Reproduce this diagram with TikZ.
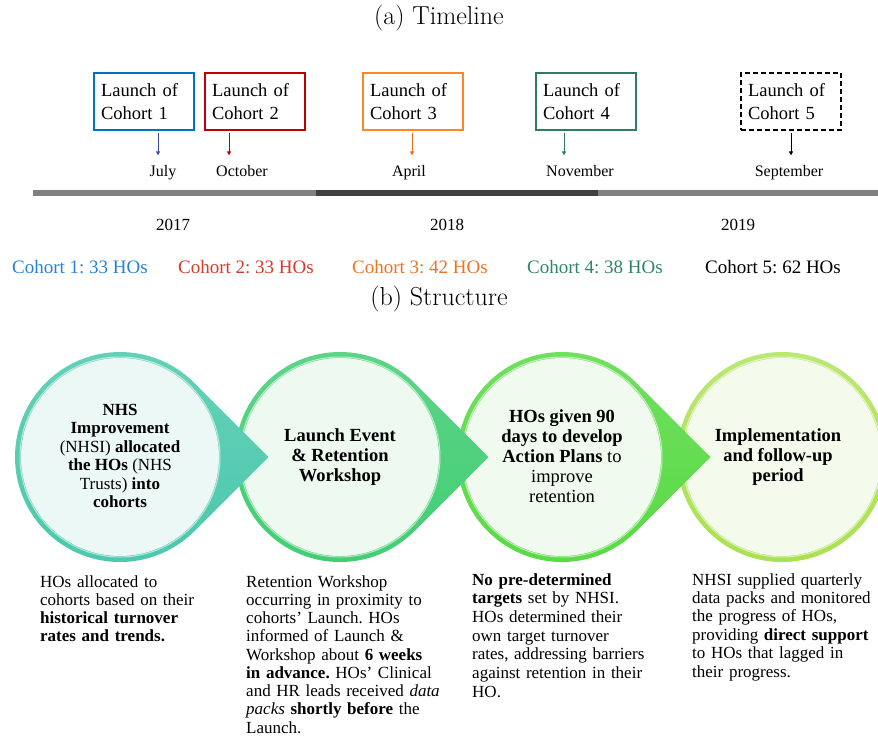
\documentclass[tikz,border=0pt]{standalone}
\usepackage{fontspec}
\newfontfamily\garafont{Liberation Serif}
\usetikzlibrary{arrows.meta}
\frenchspacing

\definecolor{boxblue}{RGB}{0,112,192}
\definecolor{boxred}{RGB}{192,0,0}
\definecolor{boxorange}{RGB}{250,135,40}
\definecolor{boxgreen}{RGB}{45,125,100}
\definecolor{arblue}{RGB}{60,75,175}
\definecolor{arorange}{RGB}{235,110,30}
\definecolor{cntblue}{RGB}{40,130,210}
\definecolor{cntred}{RGB}{210,60,40}
\definecolor{cntorange}{RGB}{235,115,40}
\definecolor{cntgreen}{RGB}{45,135,100}
\definecolor{bargray}{RGB}{128,128,128}
\definecolor{bardark}{RGB}{64,64,64}
\definecolor{ringa}{RGB}{75,200,172}
\definecolor{ringb}{RGB}{65,205,115}
\definecolor{ringc}{RGB}{88,218,68}
\definecolor{ringd}{RGB}{170,225,80}
\definecolor{palea}{RGB}{236,248,245}
\definecolor{paleb}{RGB}{238,249,240}
\definecolor{palec}{RGB}{240,250,238}
\definecolor{paled}{RGB}{244,250,236}

\begin{document}
\begin{tikzpicture}[x=1pt,y=-1pt,
  >={Triangle[length=4pt,width=4pt]},
  titlelbl/.style={font=\fontsize{26}{30}\selectfont},
  launchbox/.style={draw,line width=2.5pt,minimum width=100pt,minimum height=57pt,
    text width=86pt,inner sep=7pt,align=left,font=\garafont\fontsize{18.5}{23}\selectfont},
  launchar/.style={->,line width=0.8pt,shorten <=2pt,shorten >=6pt},
  monthlbl/.style={anchor=base,font=\garafont\fontsize{16}{19}\selectfont},
  yearlbl/.style={anchor=base,font=\garafont\fontsize{17}{20}\selectfont},
  countlbl/.style={anchor=base,font=\garafont\fontsize{19}{22}\selectfont},
  stagesmall/.style={align=center,font=\garafont\fontsize{17}{18.4}\selectfont},
  stagetext/.style={align=center,font=\garafont\fontsize{18.5}{20}\selectfont},
  desctext/.style={anchor=base west,align=left,inner sep=0pt,text width=230pt,
    font=\garafont\fontsize{17}{18.25}\selectfont}]
\useasboundingbox (0,0) rectangle (878,737);

%(a) timeline
\node[titlelbl] (tltitle) at (439,18) {(a) Timeline};

%launch boxes
\node[launchbox,boxblue] (c1box) at (144,101.5) {\color{black}Launch of\\Cohort 1};
\node[launchbox,boxred] (c2box) at (255,101.5) {\color{black}Launch of\\Cohort 2};
\node[launchbox,boxorange] (c3box) at (413,101.5) {\color{black}Launch of\\Cohort 3};
\node[launchbox,boxgreen] (c4box) at (586,101.5) {\color{black}Launch of\\Cohort 4};
\node[launchbox,black,dash pattern=on 5pt off 3pt] (c5box) at (791,101.5) {Launch of\\Cohort 5};

%months
\node[monthlbl] (c1month) at (163,176) {July};
\node[monthlbl] (c2month) at (242,176) {October};
\node[monthlbl] (c3month) at (409,176) {April};
\node[monthlbl] (c4month) at (580,176) {November};
\node[monthlbl] (c5month) at (789,176) {September};

\coordinate (c1x) at (158,0);
\coordinate (c2x) at (229,0);
\coordinate (c3x) at (412,0);
\coordinate (c4x) at (564,0);
\coordinate (c5x) at (791,0);
\draw[launchar,arblue] (c1box.south -| c1x) -- (c1month.north -| c1x);
\draw[launchar,boxred] (c2box.south -| c2x) -- (c2month.north -| c2x);
\draw[launchar,arorange] (c3box.south -| c3x) -- (c3month.north -| c3x);
\draw[launchar,boxgreen] (c4box.south -| c4x) -- (c4month.north -| c4x);
\draw[launchar,black] (c5box.south -| c5x) -- (c5month.north -| c5x);

%bar
\draw[line width=6pt,bargray] (33,193) -- (316,193);
\draw[line width=6pt,bardark] (316,193) -- (598,193);
\draw[line width=6pt,bargray] (598,193) -- (878,193);

%years
\node[yearlbl] (y2017) at (173,230) {2017};
\node[yearlbl] (y2018) at (447,230) {2018};
\node[yearlbl] (y2019) at (738,230) {2019};

%cohort sizes
\node[countlbl,cntblue] (c1count) at (80,273) {Cohort 1: 33 HOs};
\node[countlbl,cntred] (c2count) at (246,273) {Cohort 2: 33 HOs};
\node[countlbl,cntorange] (c3count) at (420,273) {Cohort 3: 42 HOs};
\node[countlbl,cntgreen] (c4count) at (595,273) {Cohort 4: 38 HOs};
\node[countlbl,black] (c5count) at (773,273) {Cohort 5: 62 HOs};

%(b) structure
\node[titlelbl] (sttitle) at (439,299) {(b) Structure};

%stages, drawn right to left so each point lies on top
\shade[top color=ringd!80!white,bottom color=ringd] (782,457) circle (105);
\fill[paled] (782,457) circle (99);
\draw[white,opacity=.6,line width=1pt] (782,457) circle (100);

\shade[top color=ringc!85!white,bottom color=ringc] (710.5,457) -- (636.25,531.25) arc[start angle=45,end angle=315,radius=105] -- cycle;
\fill[palec] (562,457) circle (99);
\draw[white,opacity=.6,line width=1pt] (562,457) circle (100);

\shade[top color=ringb!85!white,bottom color=ringb] (488.5,457) -- (414.25,531.25) arc[start angle=45,end angle=315,radius=105] -- cycle;
\fill[paleb] (340,457) circle (99);
\draw[white,opacity=.6,line width=1pt] (340,457) circle (100);

\shade[top color=ringa!85!white,bottom color=ringa] (268.5,457) -- (194.25,531.25) arc[start angle=45,end angle=315,radius=105] -- cycle;
\fill[palea] (120,457) circle (99);
\draw[white,opacity=.6,line width=1pt] (120,457) circle (100);

\node[stagesmall] (stage1) at (120,456) {\textbf{NHS}\\\textbf{Improvement}\\(NHSI) \textbf{allocated}\\\textbf{the HOs} (NHS\\Trusts) \textbf{into}\\\textbf{cohorts}};
\node[stagetext] (stage2) at (340,457) {\textbf{Launch Event}\\\textbf{\& Retention}\\\textbf{Workshop}};
\node[stagetext] (stage3) at (562,456) {\textbf{HOs given 90}\\\textbf{days to develop}\\\textbf{Action Plans} to\\improve\\retention};
\node[stagetext] (stage4) at (778,457) {\textbf{Implementation}\\\textbf{and follow-up}\\\textbf{period}};

%descriptions
\node[desctext] (desc1) at (40,587) {HOs allocated to\\cohorts based on their\\\textbf{historical turnover}\\\textbf{rates and trends.}};
\node[desctext] (desc2) at (246,587) {Retention Workshop\\occurring in proximity to\\cohorts’ Launch. HOs\\informed of Launch \&\\Workshop about \textbf{6 weeks}\\\textbf{in advance.} HOs’ Clinical\\and HR leads received \textit{data}\\\textit{packs} \textbf{shortly before} the\\Launch.};
\node[desctext,text width=200pt,font=\garafont\fontsize{17}{18.7}\selectfont] (desc3) at (472,585) {\textbf{No pre-determined}\\\textbf{targets} set by NHSI.\\HOs determined their\\own target turnover\\rates, addressing barriers\\against retention in their\\HO.};
\node[desctext,text width=184pt,font=\garafont\fontsize{17}{18.4}\selectfont] (desc4) at (692,585) {NHSI supplied quarterly\\data packs and monitored\\the progress of HOs,\\providing \textbf{direct support}\\to HOs that lagged in\\their progress.};

\end{tikzpicture}
\end{document}
